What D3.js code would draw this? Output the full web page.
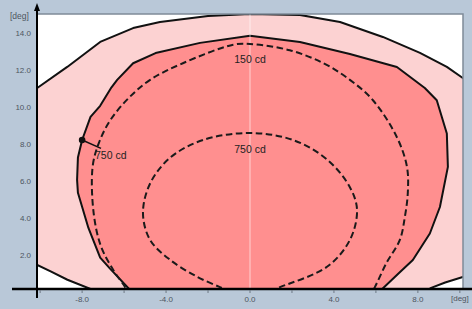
<!DOCTYPE html>
<html>
<head>
<meta charset="utf-8">
<script src="https://cdn.jsdelivr.net/npm/d3@7"></script>
<style>
  body { margin: 0; background: #b9c8d8; }
  svg { display: block; font-family: "Liberation Sans", Arial, sans-serif; }
</style>
</head>
<body>
<script>
// contour data, [deg horizontal, deg vertical]
const outerArea = [[-10.7,10.4],[-10.14,10.86],[-8.71,12.0],[-7.14,13.35],[-5.57,14.1],[-4.29,14.43],[-2,14.75],[0,14.86],
  [2.38,14.81],[4.29,14.43],[6.33,13.62],[8.1,12.76],[9.38,12.0],[10.14,11.4],[10.7,11.0],
  [10.7,0.9],[10.14,0.65],[9.3,0.35],[8.6,0.05],[8.3,-0.6],[-7.3,-0.6],[-7.6,0.0],[-8.7,0.5],[-9.5,0.95],[-10.14,1.3],[-10.7,1.6]];

const middleArea = [[-5.3,-0.6],[-5.76,0],[-6.67,1.1],[-7.14,1.7],[-7.7,3.3],[-8.2,5.2],[-8.24,5.9],[-8.2,7.1],[-8.0,8.05],
  [-7.6,9.3],[-7.14,9.9],[-6.6,10.9],[-6.33,11.3],[-5.57,12.2],[-4.5,12.75],[-2.38,13.3],[0,13.68],[2.38,13.35],[4.76,12.7],
  [7.0,12.0],[8.33,10.86],[8.9,10.2],[9.38,8.4],[9.43,6.6],[9.05,4.43],[8.57,3.0],[7.76,1.57],[7.1,0.86],[6.3,0],[5.9,-0.6]];

const iso150 = [[-5.7,-0.4],[-5.95,0.1],[-6.5,1.0],[-7.1,2.3],[-7.45,4.1],[-7.5,6.6],[-7.2,7.9],[-6.67,9.1],[-5.8,10.3],
  [-4.76,11.3],[-3.2,12.2],[-0.8,13.2],[0,13.24],[1.9,12.9],[3.5,12.2],[4.76,11.3],[5.86,10.2],[7.0,8.2],[7.48,6.6],
  [7.52,5.2],[7.38,3.9],[7.14,2.65],[6.5,1.4],[5.95,0.1],[5.7,-0.4]];

const iso750 = [[-0.9,-0.15],[-1.43,0.1],[-2.5,0.65],[-3.8,1.57],[-4.76,2.65],[-5.1,4.1],[-4.76,5.7],[-3.8,7.1],[-2.24,8.05],
  [0,8.43],[2.05,8.05],[3.67,7.0],[4.76,5.5],[5.1,4.27],[4.76,2.65],[3.67,1.2],[1.43,0.1],[0.9,-0.15]];

const xTicks = [-8, -4, 0, 4, 8];
const xMinor = [-10, -8, -6, -4, -2, 0, 2, 4, 6, 8, 10];
const yTicks = [2, 4, 6, 8, 10, 12, 14];

const labels = [
  {text: "150 cd", x: 0, y: 12.2},
  {text: "750 cd", x: 0, y: 7.35}
];
const marker = {x: -8.0, y: 8.05, tx: -7.1, ty: 7.6, text: "750 cd"};

const width = 472, height = 309;

const x = d3.scaleLinear().domain([-10.15, 10.15]).range([37, 463]);
const y = d3.scaleLinear().domain([0, 14.86]).range([289, 14]);

const svg = d3.select("body").append("svg")
    .attr("width", width)
    .attr("height", height);

svg.append("clipPath").attr("id", "plotclip")
  .append("rect")
    .attr("x", x(-10.15)).attr("y", y(14.86))
    .attr("width", x(10.15) - x(-10.15))
    .attr("height", y(0) - y(14.86));

// plot background
svg.append("rect")
    .attr("x", x(-10.15)).attr("y", y(14.86))
    .attr("width", x(10.15) - x(-10.15))
    .attr("height", y(0) - y(14.86))
    .attr("fill", "#ffffff");

const g = svg.append("g").attr("clip-path", "url(#plotclip)");

const area = d3.line().x(d => x(d[0])).y(d => y(d[1])).curve(d3.curveLinearClosed);
const iso = d3.line().x(d => x(d[0])).y(d => y(d[1])).curve(d3.curveCatmullRom);

g.append("path").attr("d", area(outerArea))
    .attr("fill", "#fcd2d2").attr("stroke", "#111").attr("stroke-width", 2)
    .attr("stroke-linejoin", "round");

g.append("path").attr("d", area(middleArea))
    .attr("fill", "#ff8f8f").attr("stroke", "#111").attr("stroke-width", 2)
    .attr("stroke-linejoin", "round");

// light centre line
g.append("line")
    .attr("x1", x(0)).attr("x2", x(0))
    .attr("y1", y(14.86)).attr("y2", y(0))
    .attr("stroke", "#ffffff").attr("stroke-opacity", 0.6).attr("stroke-width", 1);

[iso150, iso750].forEach(function(d) {
  g.append("path").attr("d", iso(d))
      .attr("fill", "none").attr("stroke", "#1a1a1a")
      .attr("stroke-width", 2).attr("stroke-dasharray", "6.5,3.5");
});

// frame on top and right
svg.append("path")
    .attr("d", "M" + x(-10.15) + "," + y(14.86) + "H" + x(10.15) + "V" + y(0))
    .attr("fill", "none").attr("stroke", "#7f8b98").attr("stroke-width", 1.5);

// marker with pointer
svg.append("line")
    .attr("x1", x(marker.x)).attr("y1", y(marker.y))
    .attr("x2", x(marker.tx)).attr("y2", y(marker.ty))
    .attr("stroke", "#111").attr("stroke-width", 1.5);
svg.append("circle")
    .attr("cx", x(marker.x)).attr("cy", y(marker.y)).attr("r", 3.3)
    .attr("fill", "#111");
svg.append("text")
    .attr("x", x(marker.tx) - 6).attr("y", y(marker.ty) + 11)
    .attr("font-size", 10.5).attr("fill", "#222")
    .text(marker.text);

svg.selectAll(".clabel")
  .data(labels).enter().append("text")
    .attr("class", "clabel")
    .attr("x", d => x(d.x)).attr("y", d => y(d.y))
    .attr("text-anchor", "middle")
    .attr("font-size", 10.5).attr("fill", "#222")
    .text(d => d.text);

// x axis
svg.append("line")
    .attr("x1", 12).attr("x2", width)
    .attr("y1", y(0)).attr("y2", y(0))
    .attr("stroke", "#000").attr("stroke-width", 2.5);

svg.selectAll(".xminor")
  .data(xMinor).enter().append("line")
    .attr("x1", d => x(d)).attr("x2", d => x(d))
    .attr("y1", y(0) + 1).attr("y2", y(0) + 4)
    .attr("stroke", "#6d7884").attr("stroke-width", 1);

svg.selectAll(".xlab")
  .data(xTicks).enter().append("text")
    .attr("x", d => x(d)).attr("y", y(0) + 13)
    .attr("text-anchor", "middle")
    .attr("font-size", 8).attr("fill", "#4d5560")
    .text(d => d.toFixed(1));

svg.append("text")
    .attr("x", 451).attr("y", y(0) + 12)
    .attr("font-size", 8).attr("fill", "#4d5560")
    .text("[deg]");

// y axis
svg.append("line")
    .attr("x1", x(-10.15)).attr("x2", x(-10.15))
    .attr("y1", 298).attr("y2", 10)
    .attr("stroke", "#000").attr("stroke-width", 2);
svg.append("path")
    .attr("d", "M" + x(-10.15) + ",3l-3,8h6z")
    .attr("fill", "#000");

svg.selectAll(".ylab")
  .data(yTicks).enter().append("text")
    .attr("x", 31).attr("y", d => y(d) + 6)
    .attr("text-anchor", "end")
    .attr("font-size", 8).attr("fill", "#4d5560")
    .text(d => d.toFixed(1));

svg.append("text")
    .attr("x", 10).attr("y", 19)
    .attr("font-size", 8.5).attr("fill", "#4d5560")
    .text("[deg]");
</script>
</body>
</html>
